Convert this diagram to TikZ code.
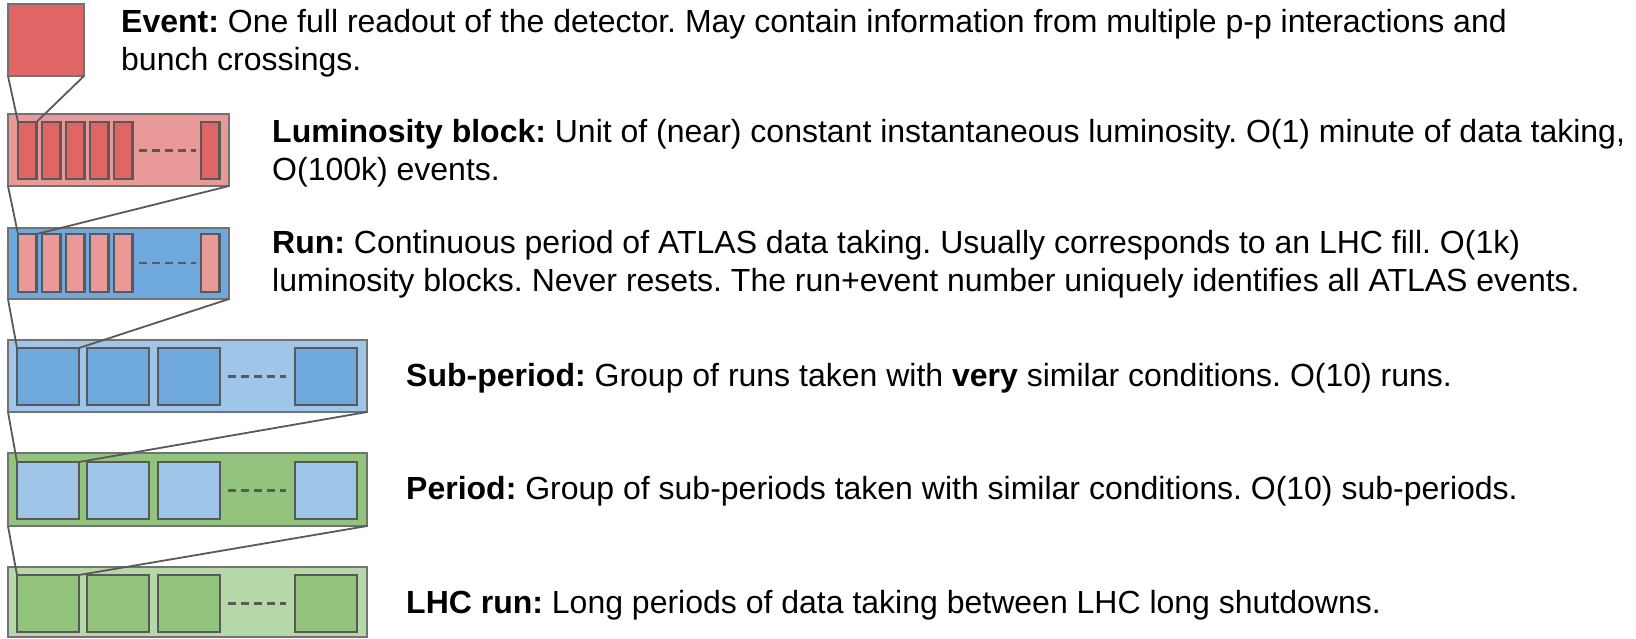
\documentclass[tikz,border=0pt]{standalone}
\usepackage{fontspec}
\setmainfont{Liberation Sans}
\frenchspacing
\definecolor{redA}{HTML}{E06666}
\definecolor{redB}{HTML}{EA9999}
\definecolor{blueA}{HTML}{6FA8DC}
\definecolor{blueB}{HTML}{9FC5E8}
\definecolor{greenA}{HTML}{93C47D}
\definecolor{greenB}{HTML}{B6D7A8}
\definecolor{edge}{HTML}{595959}
\tikzset{
  rbox/.style 2 args={inner sep=0, outer sep=0, anchor=north west,
    minimum width=#1, minimum height=#2},
  outerbox/.style={draw=edge!85, line width=1.8pt},
  innerbox/.style={draw=edge, line width=2.4pt},
  link/.style={draw=edge, line width=1.8pt},
  gap/.style={draw=edge, line width=2.4pt, dash pattern=on 8pt off 5pt},
  desc/.style={anchor=west, inner sep=0, align=left,
    font=\fontsize{32}{38.5}\selectfont},
}
\begin{document}
\begin{tikzpicture}[x=1pt, y=-1pt]
\useasboundingbox (0,0) rectangle (1636,638);

% Event
\node[rbox={76pt}{72pt}, outerbox, fill=redA] (ev) at (8,4) {};

% Luminosity block
\node[rbox={221pt}{72pt}, outerbox, fill=redB] (lb) at (8,114) {};
\foreach \i/\x in {1/18,2/42,3/66,4/90,5/114,6/201}
  \node[rbox={18.5pt}{57pt}, innerbox, fill=redA] (lb\i) at (\x,122) {};
\draw[gap] ([xshift=6pt]lb5.east) -- ([xshift=-5pt]lb6.west);

% Run
\node[rbox={221pt}{71pt}, outerbox, fill=blueA] (rn) at (8,228) {};
\foreach \i/\x in {1/18,2/42,3/66,4/90,5/114,6/201}
  \node[rbox={18.5pt}{58pt}, innerbox, fill=redB] (rn\i) at (\x,234) {};
\draw[gap] ([xshift=6pt]rn5.east) -- ([xshift=-5pt]rn6.west);

% Sub-period
\node[rbox={359pt}{72pt}, outerbox, fill=blueB] (sp) at (8,340) {};
\foreach \i/\x in {1/17,2/87,3/158,4/295}
  \node[rbox={62pt}{57pt}, innerbox, fill=blueA] (sp\i) at (\x,348) {};
\draw[gap] ([xshift=8pt]sp3.east) -- ([xshift=-9pt]sp4.west);

% Period
\node[rbox={359pt}{73pt}, outerbox, fill=greenA] (pd) at (8,453) {};
\foreach \i/\x in {1/17,2/87,3/158,4/295}
  \node[rbox={62pt}{57pt}, innerbox, fill=blueB] (pd\i) at (\x,462) {};
\draw[gap] ([xshift=8pt]pd3.east) -- ([xshift=-9pt]pd4.west);

% LHC run
\node[rbox={359pt}{70pt}, outerbox, fill=greenB] (lr) at (8,567) {};
\foreach \i/\x in {1/17,2/87,3/158,4/295}
  \node[rbox={62pt}{57pt}, innerbox, fill=greenA] (lr\i) at (\x,575) {};
\draw[gap] ([xshift=8pt]lr3.east) -- ([xshift=-9pt]lr4.west);

% zoom lines from each level to the first element of the next
\draw[link] (ev.south west) -- (lb1.north west);
\draw[link] (ev.south east) -- (lb1.north east);
\draw[link] (lb.south west) -- (rn1.north west);
\draw[link] (lb.south east) -- (rn1.north east);
\draw[link] (rn.south west) -- (sp1.north west);
\draw[link] (rn.south east) -- (sp1.north east);
\draw[link] (sp.south west) -- (pd1.north west);
\draw[link] (sp.south east) -- (pd1.north east);
\draw[link] (pd.south west) -- (lr1.north west);
\draw[link] (pd.south east) -- (lr1.north east);

% descriptions
\node[desc] (tev) at (121,43) {\textbf{Event:} One full readout of the detector. May contain information from multiple p-p interactions and\\bunch crossings.};
\node[desc] (tlb) at (272,153) {\textbf{Luminosity block:} Unit of (near) constant instantaneous luminosity. O(1) minute of data taking,\\O(100k) events.};
\node[desc] (trn) at (272,264) {\textbf{Run:} Continuous period of ATLAS data taking. Usually corresponds to an LHC fill. O(1k)\\luminosity blocks. Never resets. The run+event number uniquely identifies all ATLAS events.};
\node[desc] (tsp) at (406,378) {\textbf{Sub-period:} Group of runs taken with \textbf{very} similar conditions. O(10) runs.};
\node[desc] (tpd) at (406,491) {\textbf{Period:} Group of sub-periods taken with similar conditions. O(10) sub-periods.};
\node[desc] (tlr) at (406,605) {\textbf{LHC run:} Long periods of data taking between LHC long shutdowns.};
\end{tikzpicture}
\end{document}
